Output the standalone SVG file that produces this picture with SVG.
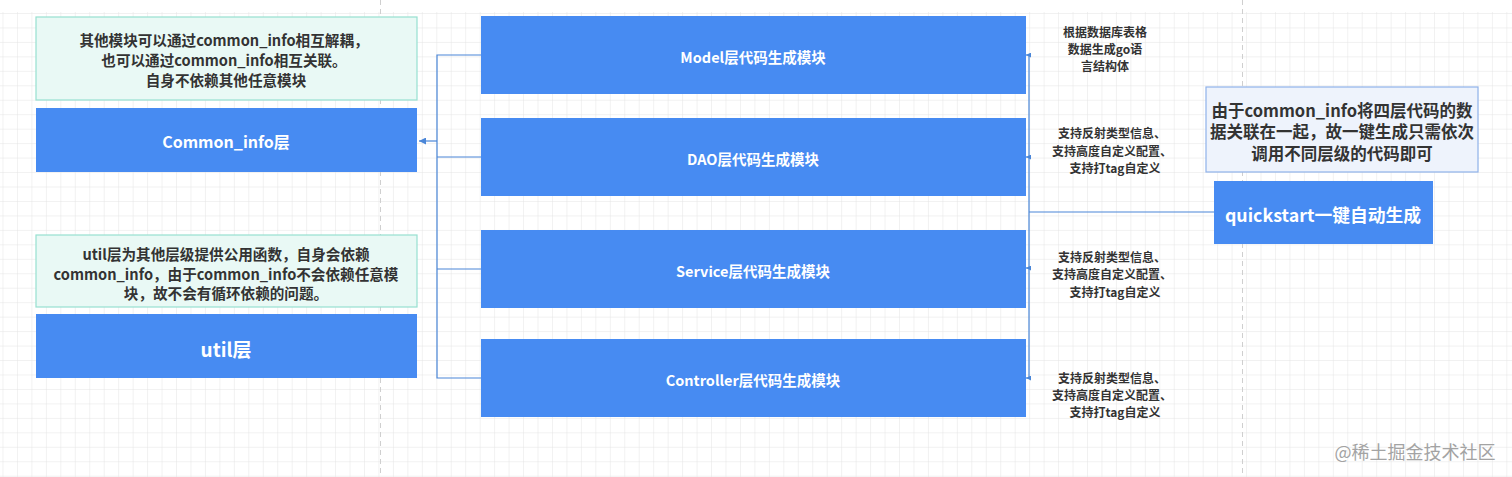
<svg xmlns="http://www.w3.org/2000/svg" width="1512" height="477" viewBox="0 0 1512 477">
<defs>
<pattern id="grid" x="2.5" y="13" width="14.46" height="14.46" patternUnits="userSpaceOnUse">
<path d="M0 0H14.46M0 0V14.46" fill="none" stroke="#e3e3e3" stroke-width="1"/>
</pattern>
<marker id="arr" viewBox="0 0 6 6" refX="6" refY="3" markerWidth="5" markerHeight="5" orient="auto" markerUnits="userSpaceOnUse">
<path d="M0 0L6 3L0 6z" fill="#4a86d8"/>
</marker>
<marker id="arrL" viewBox="0 0 8 8" refX="8" refY="4" markerWidth="7" markerHeight="7" orient="auto" markerUnits="userSpaceOnUse">
<path d="M0 0L8 4L0 8z" fill="#4a86d8"/>
</marker>
</defs>
<style>
.blue{fill:#478bf2}
.note{fill:#e9f9f5;stroke:#97e0d0;stroke-width:1.2}
.note2{fill:#eef3fc;stroke:#8fb2ea;stroke-width:1.2}
text{font-family:"Noto Sans CJK SC","Microsoft YaHei","Liberation Sans",sans-serif;font-weight:bold;text-anchor:middle;dominant-baseline:central}
.w{fill:#ffffff}
.d{fill:#333333}
.c{fill:none;stroke:#4a86d8;stroke-width:1.2}
</style>
<rect width="1512" height="477" fill="#ffffff"/>
<rect x="0" y="12" width="1512" height="465" fill="url(#grid)"/>
<line x1="380.5" y1="0" x2="380.5" y2="477" stroke="#cfcfcf" stroke-dasharray="5 4"/>
<line x1="1242.5" y1="0" x2="1242.5" y2="477" stroke="#cfcfcf" stroke-dasharray="5 4"/>

<g id="connectors">
<path class="c" d="M481 55H437V378H481M437 157H481M437 269H481"/>
<path class="c" d="M437 141H419" marker-end="url(#arrL)"/>
<path class="c" d="M1029 55V378M1029 212H1214"/>
<path class="c" d="M1029 55H1026" marker-end="url(#arr)"/>
<path class="c" d="M1029 157H1026" marker-end="url(#arr)"/>
<path class="c" d="M1029 268H1026" marker-end="url(#arr)"/>
<path class="c" d="M1029 378H1026" marker-end="url(#arr)"/>
</g>

<g id="note-common">
<rect class="note" x="36" y="17" width="381" height="83"/>
<text class="d" x="224" y="39" font-size="14.6">其他模块可以通过common_info相互解耦，</text>
<text class="d" x="224" y="59" font-size="14.6">也可以通过common_info相互关联。</text>
<text class="d" x="226" y="79" font-size="14.6">自身不依赖其他任意模块</text>
</g>
<g id="common-info">
<rect class="blue" x="36" y="108" width="381" height="64"/>
<text class="w" x="226" y="141" font-size="16">Common_info层</text>
</g>
<g id="note-util">
<rect class="note" x="36" y="235" width="381" height="72"/>
<text class="d" x="226" y="253" font-size="14.6">util层为其他层级提供公用函数，自身会依赖</text>
<text class="d" x="226" y="273" font-size="14.6">common_info，由于common_info不会依赖任意模</text>
<text class="d" x="226" y="292" font-size="14.6">块，故不会有循环依赖的问题。</text>
</g>
<g id="util">
<rect class="blue" x="36" y="314" width="381" height="64"/>
<text class="w" x="226" y="348" font-size="19">util层</text>
</g>

<g id="model">
<rect class="blue" x="481" y="16" width="545" height="78"/>
<text class="w" x="753" y="56" font-size="14.5">Model层代码生成模块</text>
</g>
<g id="dao">
<rect class="blue" x="481" y="118" width="545" height="78"/>
<text class="w" x="753" y="158" font-size="14.5">DAO层代码生成模块</text>
</g>
<g id="service">
<rect class="blue" x="481" y="230" width="545" height="78"/>
<text class="w" x="753" y="270" font-size="14.5">Service层代码生成模块</text>
</g>
<g id="controller">
<rect class="blue" x="481" y="339" width="545" height="78"/>
<text class="w" x="753" y="379" font-size="14.5">Controller层代码生成模块</text>
</g>

<g id="label-model">
<text class="d" x="1105" y="31" font-size="12">根据数据库表格</text>
<text class="d" x="1105" y="48" font-size="12">数据生成go语</text>
<text class="d" x="1105" y="65" font-size="12">言结构体</text>
</g>
<g id="label-dao">
<text class="d" x="1112" y="132" font-size="12">支持反射类型信息、</text>
<text class="d" x="1112" y="150" font-size="12">支持高度自定义配置、</text>
<text class="d" x="1115" y="167" font-size="12">支持打tag自定义</text>
</g>
<g id="label-service">
<text class="d" x="1112" y="256" font-size="12">支持反射类型信息、</text>
<text class="d" x="1112" y="273" font-size="12">支持高度自定义配置、</text>
<text class="d" x="1115" y="291" font-size="12">支持打tag自定义</text>
</g>
<g id="label-controller">
<text class="d" x="1112" y="377" font-size="12">支持反射类型信息、</text>
<text class="d" x="1112" y="394" font-size="12">支持高度自定义配置、</text>
<text class="d" x="1115" y="411" font-size="12">支持打tag自定义</text>
</g>

<g id="note-quickstart">
<rect class="note2" x="1206" y="87" width="272" height="85"/>
<text class="d" x="1342" y="110" font-size="16.5">由于common_info将四层代码的数</text>
<text class="d" x="1342" y="131" font-size="16.5">据关联在一起，故一键生成只需依次</text>
<text class="d" x="1342" y="153" font-size="16.5">调用不同层级的代码即可</text>
</g>
<g id="quickstart">
<rect class="blue" x="1214" y="181" width="219" height="63"/>
<text class="w" x="1323" y="214" font-size="17.8">quickstart一键自动生成</text>
</g>

<text x="1415" y="451" font-size="18" style="font-weight:normal;fill:#a3a3a3">@稀土掘金技术社区</text>
</svg>
